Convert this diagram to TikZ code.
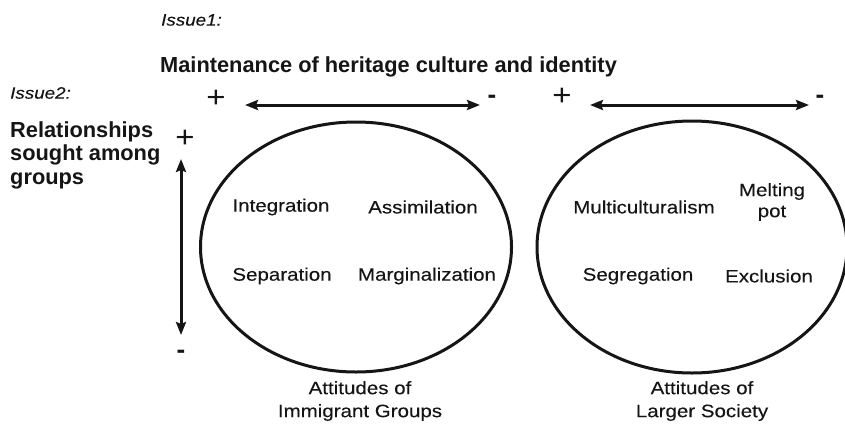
\documentclass[tikz,border=0pt]{standalone}
\usepackage{fontspec}
\setmainfont{Liberation Sans}[FakeStretch=1.14, FakeBold=0.15]
\newfontfamily\boldf{Liberation Sans}
\newfontfamily\signf{Liberation Sans}[FakeStretch=1.1]
\usetikzlibrary{arrows.meta}
\definecolor{ink}{HTML}{151515}
\tikzset{
  txt/.style={inner sep=0pt, text=ink, font=\fontsize{18}{23}\selectfont, align=center},
  hd/.style={inner sep=0pt, text=ink, font=\boldf\bfseries\fontsize{21.8}{23.5}\selectfont, align=left},
  iss/.style={inner sep=0pt, text=ink, font=\itshape\fontsize{16.5}{18}\selectfont},
  sign/.style={inner sep=0pt, text=ink, font=\signf\fontsize{30}{30}\selectfont},
  minus/.style={inner sep=0pt, text=ink, font=\boldf\bfseries\fontsize{26}{26}\selectfont},
  dbl/.style={line width=3pt, draw=ink, {Stealth[length=13pt,width=10pt,inset=2pt]}-{Stealth[length=13pt,width=10pt,inset=2pt]}},
  ring/.style={line width=3pt, draw=ink}
}
\begin{document}
\begin{tikzpicture}[x=1pt,y=-1pt]
\useasboundingbox (0,0) rectangle (845,423);
% headings
\node[iss, anchor=west] (issue1) at (161,20) {Issue1:};
\node[hd, anchor=west] (maint) at (160,67) {Maintenance of heritage culture and identity};
\node[iss, anchor=west] (issue2) at (10,93) {Issue2:};
\node[hd, anchor=west] (rel) at (10,155) {Relationships\\sought among\\groups};
% horizontal scales
\node[sign] (plusA) at (216,99) {+};
\node[minus] (minusA) at (492,99) {-};
\coordinate (aL1) at (245,105);
\coordinate (aL2) at (480,105);
\draw[dbl] (aL1) -- (aL2);
\node[sign] (plusB) at (562,97) {+};
\node[minus] (minusB) at (820,99) {-};
\coordinate (aR1) at (590,105);
\coordinate (aR2) at (809,105);
\draw[dbl] (aR1) -- (aR2);
% vertical scale
\node[sign] (plusV) at (185,139) {+};
\node[minus] (minusV) at (181,354) {-};
\coordinate (v1) at (181,159);
\coordinate (v2) at (181,335);
\draw[dbl] (v1) -- (v2);
% ellipses
\coordinate (E1) at (356,247);
\coordinate (E2) at (692,247);
\draw[ring] (E1) ellipse [x radius=155.5, y radius=125];
\draw[ring] (E2) ellipse [x radius=155, y radius=126];
% left ellipse texts
\node[txt] (integ) at (281,207) {Integration};
\node[txt] (assim) at (423,207) {Assimilation};
\node[txt] (separ) at (282,276) {Separation};
\node[txt] (margi) at (427,276) {Marginalization};
\node[txt] (attI) at (360,401) {Attitudes of\\Immigrant Groups};
% right ellipse texts
\node[txt] (multi) at (644,207) {Multiculturalism};
\node[txt, font=\fontsize{18}{21}\selectfont] (melt) at (772,202) {Melting\\pot};
\node[txt] (segre) at (638,276) {Segregation};
\node[txt] (exclu) at (769,276) {Exclusion};
\node[txt] (attL) at (702,401) {Attitudes of\\Larger Society};
\end{tikzpicture}
\end{document}
